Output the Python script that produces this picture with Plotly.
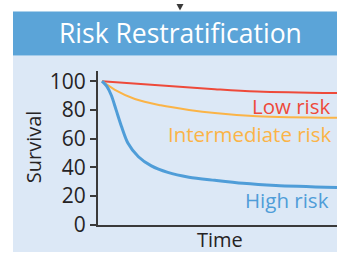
import plotly.graph_objects as go

# ---- data ----
time = [0, 0.2, 0.4, 0.6, 0.85, 1.1, 1.55, 2.1, 2.8, 3.7, 4.8, 6.0, 7.4, 10.0]
high_risk = [100, 96.5, 90, 80, 67.5, 57, 47.4, 41, 36.5, 33.2, 31, 28.9, 27.4, 26]

time_mid = [0, 0.55, 1.4, 2.5, 3.7, 4.8, 6.6, 10.0]
intermediate_risk = [100, 94, 87.6, 83.2, 80, 77.8, 75.6, 74.5]

time_low = [0, 4.8, 6.6, 10.0]
low_risk = [100, 94.4, 92.8, 91.7]

y_ticks = [0, 20, 40, 60, 80, 100]

W, H = 337, 265
def px(x):
    return x / W
def py(y):
    return 1 - y / H

DARK = "#262324"
FONT = "Open Sans"

fig = go.Figure()
fig.add_trace(go.Scatter(x=time_low, y=low_risk, mode="lines",
                         line=dict(color="#ee4a3a", width=2, shape="spline"), hoverinfo="skip"))
fig.add_trace(go.Scatter(x=time_mid, y=intermediate_risk, mode="lines",
                         line=dict(color="#fbb447", width=2, shape="spline"), hoverinfo="skip"))
fig.add_trace(go.Scatter(x=time, y=high_risk, mode="lines",
                         line=dict(color="#4f9dd8", width=3, shape="spline", smoothing=0.8),
                         hoverinfo="skip"))

shapes = [
    dict(type="rect", xref="paper", yref="paper", x0=px(13), x1=1.0, y0=0, y1=py(55),
         fillcolor="#dce8f6", line=dict(width=0), layer="below"),
    dict(type="rect", xref="paper", yref="paper", x0=px(13), x1=1.0, y0=py(55), y1=py(8),
         fillcolor="#5ba4d8", line=dict(width=0), layer="below"),
    dict(type="path", xref="paper", yref="paper",
         path=f"M {px(176.5)},{py(0)} L {px(183.5)},{py(0)} L {px(180)},{py(7)} Z",
         fillcolor="#3a3a3a", line=dict(width=0), layer="below"),
]

annotations = [
    dict(text="Risk Restratification", x=px(180), y=py(31), xref="paper", yref="paper",
         showarrow=False, font=dict(family=FONT, size=26.5, color="white"),
         xanchor="center", yanchor="middle"),
    dict(text="Survival", x=px(33), y=py(153), xref="paper", yref="paper", textangle=-90,
         showarrow=False, font=dict(family=FONT, size=20, color=DARK),
         xanchor="center", yanchor="middle"),
    dict(text="Time", x=px(220), y=py(252), xref="paper", yref="paper",
         showarrow=False, font=dict(family=FONT, size=20, color=DARK),
         xanchor="center", yanchor="middle"),
    dict(text="Low risk", x=px(333), y=py(109), xref="paper", yref="paper",
         showarrow=False, font=dict(family=FONT, size=20.5, color="#ee4a3a"),
         xanchor="right", yanchor="middle"),
    dict(text="Intermediate risk", x=px(334), y=py(139), xref="paper", yref="paper",
         showarrow=False, font=dict(family=FONT, size=20.5, color="#fbb447"),
         xanchor="right", yanchor="middle"),
    dict(text="High risk", x=px(331), y=py(209), xref="paper", yref="paper",
         showarrow=False, font=dict(family=FONT, size=20.5, color="#4f9dd8"),
         xanchor="right", yanchor="middle"),
]

fig.update_layout(
    width=W, height=H, margin=dict(l=0, r=0, t=0, b=0),
    paper_bgcolor="white", plot_bgcolor="white", showlegend=False,
    shapes=shapes, annotations=annotations,
    xaxis=dict(domain=[px(98), 1.0], range=[-0.17, 10.0], showgrid=False, zeroline=False,
               showline=True, linecolor="#3a3a3a", linewidth=2, showticklabels=False, ticks=""),
    yaxis=dict(domain=[py(236), py(72)], range=[0, 106.8], showgrid=False, zeroline=False,
               showline=True, linecolor="#3a3a3a", linewidth=2, tickvals=y_ticks,
               ticks="outside", ticklen=6, tickwidth=1.5, tickcolor="#3a3a3a",
               tickfont=dict(family=FONT, size=21, color=DARK)),
)

fig.write_html("out.html", config={"displayModeBar": False},
               post_script="document.body.style.margin='0';document.body.style.padding='0';"
                           "document.documentElement.style.overflow='hidden';")
